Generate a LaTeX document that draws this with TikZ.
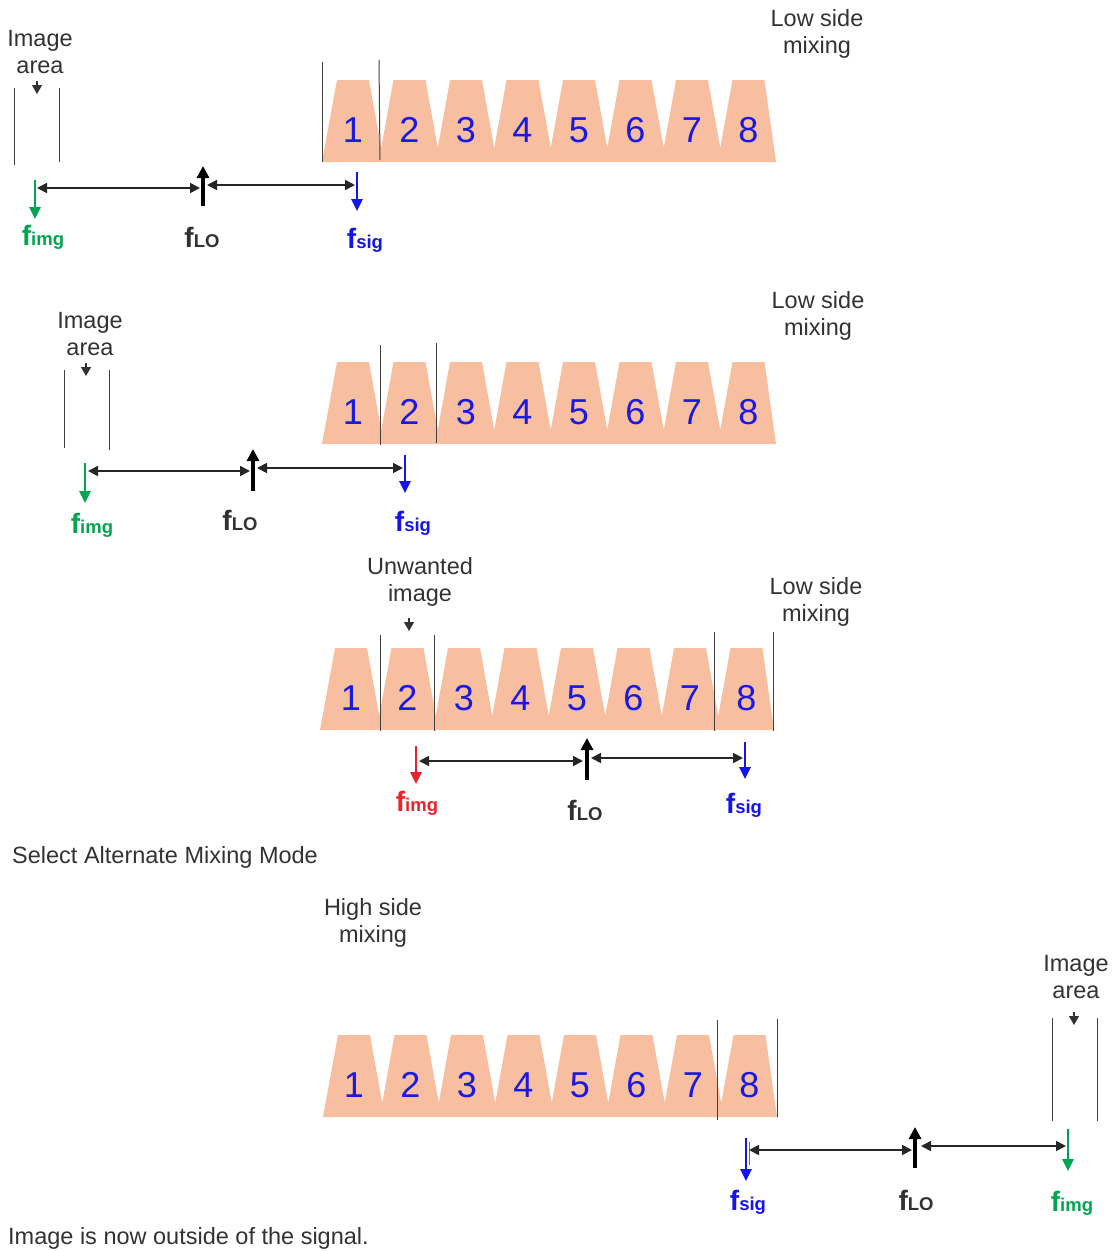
\documentclass[tikz,border=0pt]{standalone}
\usepackage{fontspec}
\setmainfont{Liberation Sans}
\usetikzlibrary{arrows.meta}
\definecolor{peach}{RGB}{247,190,160}
\definecolor{numblue}{RGB}{25,25,225}
\definecolor{sigblue}{RGB}{20,20,235}
\definecolor{imggreen}{RGB}{0,165,80}
\definecolor{imgred}{RGB}{235,35,40}
\definecolor{txtgray}{RGB}{50,50,50}
\tikzset{
 txt/.style={font=\fontsize{23.5}{27}\selectfont, text=txtgray, align=center, inner sep=0pt},
 num/.style={font=\fontsize{36}{36}\selectfont, text=numblue, inner sep=0pt},
 vline/.style={draw=black!75, line width=1pt},
 ptr/.style={draw=txtgray, line width=1.2pt, -{Triangle[width=10pt,length=9pt]}},
 spanarrow/.style={draw=black!85, line width=1.8pt, {Triangle[width=10pt,length=10pt]}-{Triangle[width=10pt,length=10pt]}},
 farrow/.style={line width=2.6pt, -{Triangle[width=11pt,length=12pt]}},
 loarrow/.style={draw=black, line width=3.4pt, -{Triangle[width=12pt,length=12pt]}},
 flab/.style={inner sep=0pt},
}
\newcommand\fsub[1]{{\bfseries\fontsize{28}{28}\selectfont f\fontsize{18.5}{18.5}\selectfont #1}}
\newcommand\traprow[3]{%
 \fill[peach] (#2,#3+82) \foreach \k in {0,...,6}{ -- ({#2+15+56.5*\k},#3) -- ({#2+47+56.5*\k},#3) -- ({#2+59.25+56.5*\k},#3+68)} -- ({#2+410.5},#3) -- ({#2+442.5},#3) -- ({#2+454},#3+82) -- cycle;
 \foreach \k [count=\n] in {0,...,7} \node[num] (#1\n) at ({#2+31+56.5*\k},#3+50) {\n};
}
\begin{document}
\begin{tikzpicture}[x=1pt,y=-1pt]
\useasboundingbox (0,0) rectangle (1113,1251);

% ---------- Row 1 ----------
\traprow{ra}{322}{80}
\draw[vline] (322,62) -- (322,162);
\draw[vline] (379,60) -- (380,160);
\draw[vline] (14,88) -- (14,165);
\draw[vline] (59,88) -- (59,162);
\node[txt] (ia1) at (40,52) {Image\\area};
\draw[ptr] (37,81) -- (37,94);
\node[txt] (ls1) at (817,34) {Low side\\mixing};
\coordinate (i1t) at (35,180); \coordinate (i1b) at (35,219);
\coordinate (l1b) at (203,206); \coordinate (l1t) at (203,166);
\coordinate (s1t) at (357,172); \coordinate (s1b) at (357,211);
\coordinate (a1) at (37,188); \coordinate (b1) at (200,188);
\coordinate (c1) at (207,185); \coordinate (d1) at (355,185);
\draw[farrow, imggreen] (i1t) -- (i1b);
\draw[loarrow] (l1b) -- (l1t);
\draw[farrow, sigblue] (s1t) -- (s1b);
\draw[spanarrow] (a1) -- (b1);
\draw[spanarrow] (c1) -- (d1);
\node[flab, text=imggreen] (fi1) at (43,237) {\fsub{img}};
\node[flab, text=txtgray] (fl1) at (202,237) {\fsub{LO}};
\node[flab, text=sigblue] (fs1) at (365,240) {\fsub{sig}};

% ---------- Row 2 ----------
\traprow{rb}{322}{362}
\draw[vline] (380,345) -- (380,445);
\draw[vline] (436,343) -- (436,443);
\draw[vline] (64,370) -- (64,448);
\draw[vline] (109,370) -- (109,450);
\node[txt] (ia2) at (90,334) {Image\\area};
\draw[ptr] (86,363) -- (86,376);
\node[txt] (ls2) at (818,316) {Low side\\mixing};
\coordinate (i2t) at (85,463); \coordinate (i2b) at (85,503);
\coordinate (l2b) at (253,491); \coordinate (l2t) at (253,449);
\coordinate (s2t) at (405,455); \coordinate (s2b) at (405,493);
\coordinate (a2) at (88,471); \coordinate (b2) at (250,471);
\coordinate (c2) at (257,468); \coordinate (d2) at (403,468);
\draw[farrow, imggreen] (i2t) -- (i2b);
\draw[loarrow] (l2b) -- (l2t);
\draw[farrow, sigblue] (s2t) -- (s2b);
\draw[spanarrow] (a2) -- (b2);
\draw[spanarrow] (c2) -- (d2);
\node[flab, text=imggreen] (fi2) at (92,525) {\fsub{img}};
\node[flab, text=txtgray] (fl2) at (240,520) {\fsub{LO}};
\node[flab, text=sigblue] (fs2) at (413,523) {\fsub{sig}};

% ---------- Row 3 ----------
\traprow{rc}{320}{648}
\draw[vline] (380,635) -- (380,731);
\draw[vline] (434,635) -- (434,731);
\draw[vline] (714,632) -- (714,731);
\draw[vline] (773,632) -- (773,731);
\node[txt] (uw) at (420,582) {Unwanted\\image};
\draw[ptr] (409,618) -- (409,631);
\node[txt] (ls3) at (816,602) {Low side\\mixing};
\coordinate (i3t) at (416,746); \coordinate (i3b) at (416,784);
\coordinate (l3b) at (587,780); \coordinate (l3t) at (587,738);
\coordinate (s3t) at (745,742); \coordinate (s3b) at (745,779);
\coordinate (a3) at (419,761); \coordinate (b3) at (583,761);
\coordinate (c3) at (591,758); \coordinate (d3) at (743,758);
\draw[farrow, imgred] (i3t) -- (i3b);
\draw[loarrow] (l3b) -- (l3t);
\draw[farrow, sigblue] (s3t) -- (s3b);
\draw[spanarrow] (a3) -- (b3);
\draw[spanarrow] (c3) -- (d3);
\node[flab, text=imgred] (fi3) at (417,803) {\fsub{img}};
\node[flab, text=txtgray] (fl3) at (585,810) {\fsub{LO}};
\node[flab, text=sigblue] (fs3) at (744,805) {\fsub{sig}};

\node[txt, anchor=west] (sel) at (12,857) {Select Alternate Mixing Mode};

% ---------- Row 4 ----------
\node[txt] (hs) at (373,923) {High side\\mixing};
\traprow{rd}{323}{1035}
\draw[vline] (717,1020) -- (717,1120);
\draw[vline] (777,1019) -- (777,1117);
\draw[vline] (1052,1018) -- (1052,1121);
\draw[vline] (1097,1018) -- (1097,1121);
\node[txt] (ia4) at (1076,977) {Image\\area};
\draw[ptr] (1074,1012) -- (1074,1025);
\coordinate (s4t) at (746,1138); \coordinate (s4b) at (746,1181);
\coordinate (l4b) at (915,1168); \coordinate (l4t) at (915,1127);
\coordinate (i4t) at (1068,1129); \coordinate (i4b) at (1068,1171);
\coordinate (a4) at (749,1150); \coordinate (b4) at (912,1150);
\coordinate (c4) at (921,1146); \coordinate (d4) at (1066,1146);
\draw[imggreen, line width=1pt] (749,1142) -- (749,1165);
\draw[farrow, sigblue] (s4t) -- (s4b);
\draw[loarrow] (l4b) -- (l4t);
\draw[farrow, imggreen] (i4t) -- (i4b);
\draw[spanarrow] (a4) -- (b4);
\draw[spanarrow] (c4) -- (d4);
\node[flab, text=sigblue] (fs4) at (748,1202) {\fsub{sig}};
\node[flab, text=txtgray] (fl4) at (916,1200) {\fsub{LO}};
\node[flab, text=imggreen] (fi4) at (1072,1203) {\fsub{img}};

\node[txt, anchor=west] (note) at (8,1238) {Image is now outside of the signal.};
\end{tikzpicture}
\end{document}
